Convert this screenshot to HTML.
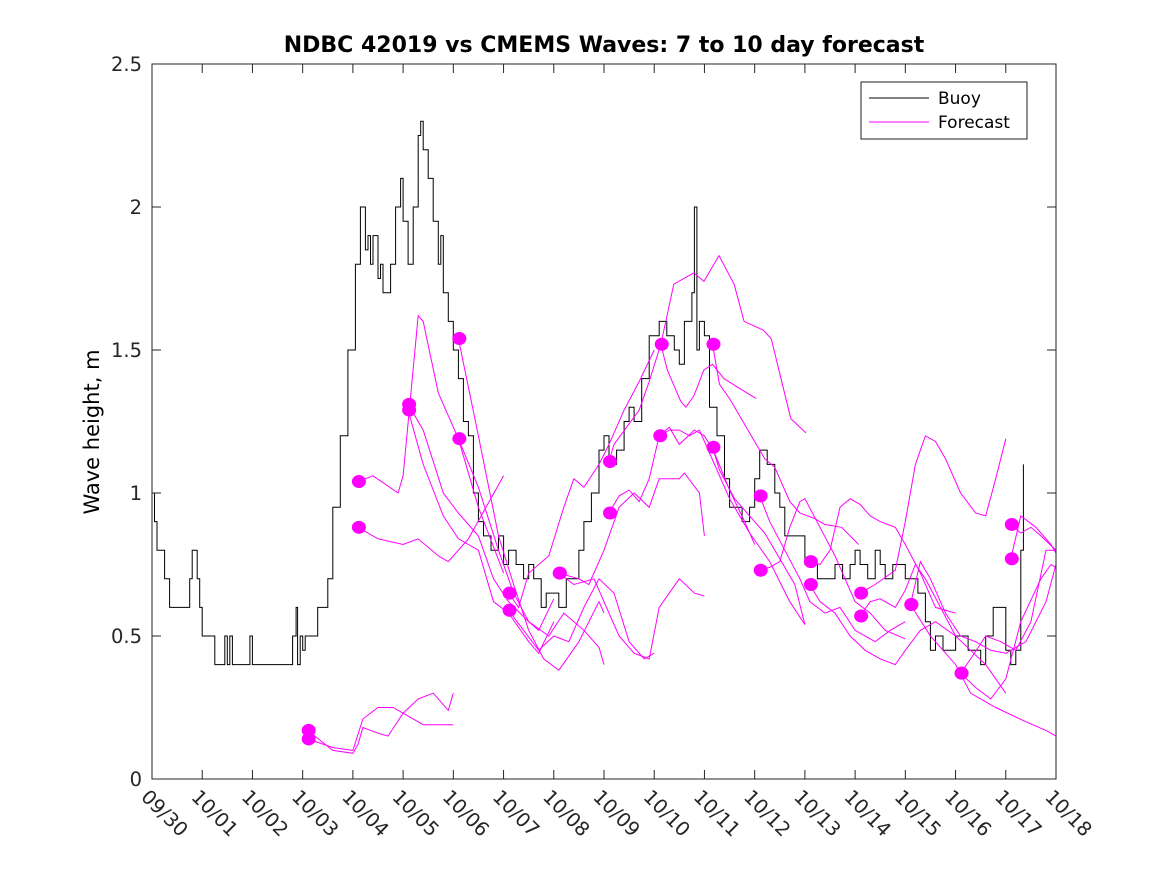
<!DOCTYPE html>
<html><head><meta charset="utf-8"><style>
body{margin:0;background:#fff;}
svg{display:block;font-family:"DejaVu Sans","Liberation Sans",sans-serif;}
</style></head><body>
<svg id="chart" width="1167" height="875" xmlns="http://www.w3.org/2000/svg">
<rect width="1167" height="875" fill="#fff"/>
<text x="604" y="52" text-anchor="middle" font-weight="bold" font-size="22">NDBC 42019 vs CMEMS Waves: 7 to 10 day forecast</text>
<text transform="translate(99,432) rotate(-90)" text-anchor="middle" font-size="21">Wave height, m</text>
<g id="plot"></g>
<g id="axes"></g>
<g>
<rect x="861" y="82" width="166" height="57" fill="#fff" stroke="#222" stroke-width="1"/>
<line x1="869" y1="98" x2="929" y2="98" stroke="#000" stroke-width="1"/>
<text x="938" y="104" font-size="17">Buoy</text>
<line x1="869" y1="122" x2="929" y2="122" stroke="#f0f" stroke-width="1"/>
<text x="938" y="128" font-size="17">Forecast</text>
</g>
</svg>
<script>
const xTickLabels=["09/30","10/01","10/02","10/03","10/04","10/05","10/06","10/07","10/08","10/09","10/10","10/11","10/12","10/13","10/14","10/15","10/16","10/17","10/18"];
const yTicks=[0,0.5,1,1.5,2,2.5];
const buoyDays=[0,0.05,0.1,0.25,0.35,0.75,0.8,0.9,0.95,1.0,1.25,1.45,1.5,1.55,1.6,1.9,1.95,2.0,2.1,2.75,2.8,2.87,2.9,2.95,3.0,3.05,3.3,3.5,3.6,3.75,3.9,4.05,4.15,4.25,4.3,4.35,4.4,4.5,4.55,4.6,4.75,4.85,4.95,5.0,5.1,5.2,5.3,5.35,5.4,5.5,5.6,5.7,5.75,5.8,5.9,6.0,6.1,6.2,6.3,6.4,6.5,6.6,6.75,6.9,7.0,7.1,7.25,7.4,7.5,7.6,7.75,7.85,8.0,8.1,8.25,8.5,8.6,8.75,8.9,9.0,9.1,9.25,9.4,9.5,9.6,9.75,9.9,10.0,10.1,10.25,10.4,10.5,10.6,10.75,10.8,10.85,10.9,11.0,11.1,11.25,11.4,11.5,11.75,11.9,12.0,12.1,12.25,12.4,12.5,12.6,12.75,13.0,13.25,13.5,13.6,13.75,13.9,14.0,14.1,14.25,14.4,14.5,14.6,14.75,15.0,15.25,15.4,15.5,15.6,15.75,16.0,16.25,16.5,16.6,16.75,17.0,17.1,17.2,17.3,17.35];
const buoyVals=[1.0,0.9,0.8,0.7,0.6,0.7,0.8,0.7,0.6,0.5,0.4,0.5,0.4,0.5,0.4,0.4,0.5,0.4,0.4,0.4,0.5,0.6,0.4,0.5,0.45,0.5,0.6,0.7,0.95,1.2,1.5,1.8,2.0,1.85,1.9,1.8,1.9,1.75,1.8,1.7,1.8,2.0,2.1,1.95,1.8,2.0,2.25,2.3,2.2,2.1,1.95,1.8,1.9,1.7,1.6,1.5,1.4,1.25,1.2,1.0,0.9,0.85,0.8,0.85,0.75,0.8,0.75,0.7,0.75,0.7,0.6,0.65,0.65,0.6,0.7,0.8,0.9,1.0,1.15,1.2,1.1,1.15,1.25,1.3,1.25,1.4,1.55,1.55,1.6,1.55,1.5,1.45,1.6,1.7,2.0,1.5,1.6,1.55,1.3,1.2,1.05,0.95,0.9,0.95,1.05,1.15,1.1,1.0,0.95,0.85,0.85,0.75,0.7,0.7,0.75,0.7,0.75,0.8,0.75,0.7,0.8,0.75,0.7,0.75,0.7,0.65,0.55,0.45,0.5,0.45,0.5,0.45,0.4,0.5,0.6,0.45,0.4,0.45,0.8,1.1,1.0];
const fcDays=[
[3.1,3.6,4.0,4.1,4.2,4.5,4.7,5.0,5.3,5.6,5.9,6.0],
[3.1,3.6,4.0,4.2,4.5,4.8,5.1,5.4,6.0],
[4.1,4.4,4.9,5.0,5.3,5.4,5.7,6.1,6.5,7.0],
[4.1,4.5,5.0,5.3,5.7,5.9,6.3,7.0],
[5.1,5.4,5.8,6.1,6.5,6.8,7.1,7.5,7.7,8.0],
[5.1,5.4,5.8,6.1,6.5,6.8,7.1,7.5,7.7,8.0],
[6.1,6.5,6.9,7.2,7.5,7.8,8.1,8.5,8.9,9.0],
[6.1,6.5,6.9,7.2,7.5,7.9,8.2,8.6,8.9,9.0],
[7.1,7.3,7.5,7.9,8.2,8.4,8.6,8.9,9.1,9.4,9.7,10.0],
[7.1,7.4,7.7,8.0,8.3,8.6,8.9,9.2,9.5,9.8,10.0],
[8.1,8.5,8.7,9.0,9.3,9.6,9.9,10.1,10.5,10.6,10.9,11.0],
[8.1,8.4,8.8,9.0,9.3,9.6,9.9,10.1,10.5,10.8,11.0],
[9.1,9.2,9.7,9.9,10.13,10.26,10.53,10.63,10.79,10.99,11.16,11.39,11.66,12.03],
[9.1,9.3,9.5,9.7,9.9,10.1,10.3,10.5,10.8,11.0,11.2,11.5,11.8,12.0],
[10.13,10.39,10.79,10.99,11.29,11.59,11.79,12.17,12.33,12.72,13.02],
[10.1,10.3,10.5,10.7,10.9,11.1,11.5,11.9,12.3,12.7,13.0],
[11.16,11.3,11.5,11.9,12.2,12.4,12.7,12.9,13.2,13.4,13.73,14.07],
[11.16,11.3,11.6,11.9,12.2,12.5,12.8,13.0],
[12.1,12.3,12.6,12.9,13.1,13.4,13.7,14.0,14.4,14.7,15.0],
[12.1,12.3,12.5,12.7,12.9,13.0,13.3,13.6,14.0,14.3,14.6,15.0],
[13.1,13.3,13.5,13.7,13.9,14.1,14.3,14.5,14.8,15.0,15.3,15.6,16.0],
[13.1,13.3,13.6,13.9,14.2,14.5,14.8,15.0,15.3,15.6,16.0],
[14.1,14.4,14.8,15.0,15.2,15.4,15.6,15.8,16.1,16.4,16.6,16.8,17.0],
[14.1,14.3,14.5,14.8,15.0,15.2,15.4,15.7,16.0,16.3,16.6,17.0],
[15.1,15.5,16.0,16.3,16.6,16.8,17.4,17.8,18.0],
[15.1,15.3,15.5,15.8,16.1,16.4,16.7,17.0,17.4,17.8,18.0],
[16.1,16.4,16.7,17.0,17.3,17.7,17.9,18.0],
[16.1,16.3,16.6,16.9,17.2,17.5,17.8,18.0],
[17.1,17.3,17.5,17.7,18.0],
[17.1,17.3,17.6,17.9,18.0]];
const fcVals=[
[0.17,0.10,0.09,0.12,0.18,0.16,0.15,0.23,0.28,0.30,0.24,0.30],
[0.14,0.11,0.10,0.21,0.25,0.25,0.22,0.19,0.19],
[1.04,1.06,1.00,1.06,1.62,1.60,1.35,1.19,0.95,0.72],
[0.88,0.84,0.82,0.84,0.78,0.76,0.84,1.06],
[1.31,1.22,1.00,0.93,0.85,0.70,0.62,0.55,0.52,0.63],
[1.29,1.10,0.92,0.84,0.80,0.62,0.58,0.48,0.44,0.55],
[1.54,1.20,0.85,0.68,0.52,0.42,0.38,0.48,0.62,0.58],
[1.19,1.02,0.80,0.65,0.55,0.50,0.58,0.52,0.46,0.40],
[0.65,0.60,0.72,0.78,0.95,1.05,1.02,1.10,1.17,1.29,1.39,1.50],
[0.59,0.52,0.45,0.50,0.48,0.60,0.70,0.65,0.48,0.42,0.44],
[0.72,0.70,0.68,0.80,0.95,1.00,0.95,1.05,1.05,1.07,1.00,0.85],
[0.72,0.68,0.70,0.62,0.50,0.44,0.42,0.60,0.70,0.65,0.64],
[1.11,1.17,1.29,1.39,1.52,1.43,1.32,1.30,1.34,1.43,1.45,1.40,1.37,1.33],
[0.93,0.99,1.01,0.97,1.05,1.20,1.23,1.17,1.22,1.20,1.14,1.01,0.90,0.82],
[1.52,1.73,1.77,1.74,1.83,1.73,1.60,1.57,1.54,1.26,1.21],
[1.20,1.22,1.22,1.20,1.22,1.14,0.98,0.86,0.76,0.62,0.54],
[1.52,1.38,1.33,1.21,1.12,1.09,0.97,0.93,0.91,0.89,0.88,0.82],
[1.16,1.08,0.98,0.92,0.86,0.77,0.68,0.54],
[0.99,0.90,0.80,0.70,0.62,0.58,0.60,0.52,0.48,0.52,0.55],
[0.73,0.74,0.76,0.88,0.97,0.98,0.88,0.78,0.62,0.58,0.52,0.49],
[0.76,0.75,0.80,0.95,0.98,0.96,0.92,0.90,0.88,0.82,0.72,0.60,0.58],
[0.68,0.62,0.58,0.50,0.45,0.42,0.40,0.45,0.52,0.55,0.50],
[0.65,0.68,0.73,0.90,1.10,1.20,1.18,1.12,1.00,0.93,0.92,1.05,1.19],
[0.57,0.62,0.63,0.60,0.66,0.75,0.70,0.60,0.50,0.45,0.40,0.30],
[0.61,0.50,0.40,0.30,0.27,0.25,0.20,0.17,0.15],
[0.61,0.76,0.70,0.58,0.50,0.48,0.45,0.44,0.48,0.62,0.75],
[0.37,0.32,0.28,0.35,0.55,0.70,0.75,0.74],
[0.37,0.42,0.50,0.48,0.45,0.55,0.80,0.80],
[0.89,0.86,0.88,0.85,0.80],
[0.77,0.92,0.88,0.82,0.79]];

const X0=152,X1=1056,Y0=779,Y1=64,XMAX=18,YMAX=2.5;
function xs(d){return X0+(X1-X0)*d/XMAX;}
function ys(v){return Y0-(Y0-Y1)*v/YMAX;}
const NS="http://www.w3.org/2000/svg";
const plot=document.getElementById('plot');
const axes=document.getElementById('axes');
function mk(tag,attrs,parent){const e=document.createElementNS(NS,tag);for(const k in attrs)e.setAttribute(k,attrs[k]);parent.appendChild(e);return e;}

const defs=mk('defs',{},plot);
const cp=mk('clipPath',{id:'clip'},defs);
mk('rect',{x:X0,y:Y1,width:X1-X0,height:Y0-Y1},cp);
const g=mk('g',{'clip-path':'url(#clip)'},plot);

let d='M'+xs(buoyDays[0])+','+ys(buoyVals[0]);
for(let i=1;i<buoyDays.length;i++){d+=' H'+xs(buoyDays[i]).toFixed(1)+' V'+ys(buoyVals[i]).toFixed(1);}
const bp=mk('path',{d:d,fill:'none',stroke:'#000','stroke-width':1},g);



for(let s=0;s<fcDays.length;s++){
  const pts=fcDays[s].map((dd,i)=>xs(dd).toFixed(1)+','+ys(fcVals[s][i]).toFixed(1)).join(' ');
  const pl=mk('polyline',{points:pts,fill:'none',stroke:'#f0f','stroke-width':1},g);
  
  
}
for(let s=0;s<fcDays.length;s++){
  const c=mk('ellipse',{cx:xs(fcDays[s][0])+1,cy:ys(fcVals[s][0]),rx:7,ry:6.5,fill:'#f0f'},g);
  
  
}

mk('rect',{x:X0,y:Y1,width:X1-X0,height:Y0-Y1,fill:'none',stroke:'#262626','stroke-width':1},axes);
yTicks.forEach(v=>{
  const y=ys(v);
  mk('line',{x1:X0,y1:y,x2:X0+9,y2:y,stroke:'#262626'},axes);
  mk('line',{x1:X1,y1:y,x2:X1-9,y2:y,stroke:'#262626'},axes);
  const t=mk('text',{x:X0-10,y:y+7,'text-anchor':'end','font-size':19.5,fill:'#262626'},axes);
  t.textContent=(v===0?'0':String(v));
  
  
});
xTickLabels.forEach((lab,i)=>{
  const x=xs(i);
  mk('line',{x1:x,y1:Y0,x2:x,y2:Y0-9,stroke:'#262626'},axes);
  mk('line',{x1:x,y1:Y1,x2:x,y2:Y1+9,stroke:'#262626'},axes);
  const t=mk('text',{transform:'translate('+(x-12)+','+(Y0+19)+') rotate(45)','font-size':19.5,fill:'#262626'},axes);
  t.textContent=lab;
  
  
});
</script>
</body></html>
